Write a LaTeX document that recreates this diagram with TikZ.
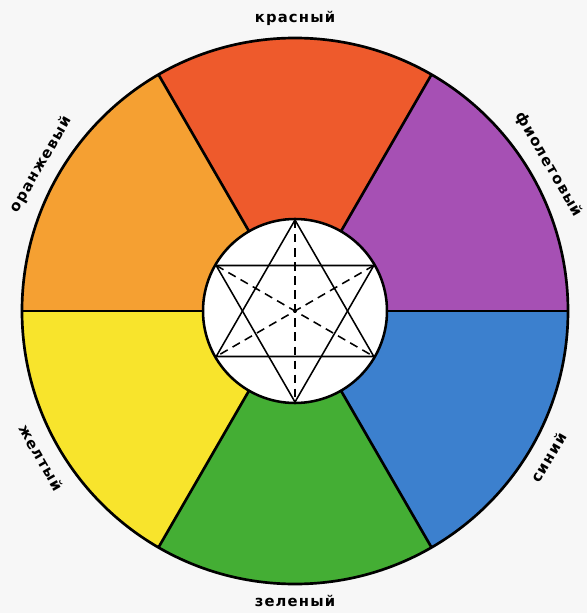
\documentclass[tikz,border=0pt]{standalone}
\usepackage{fontspec}
\newfontfamily\wheelfont[LetterSpace=8]{DejaVu Sans Bold}
\definecolor{wheelred}{HTML}{EE5A2C}
\definecolor{wheelviolet}{HTML}{A650B4}
\definecolor{wheelblue}{HTML}{3C80CE}
\definecolor{wheelgreen}{HTML}{44AE34}
\definecolor{wheelyellow}{HTML}{F8E42C}
\definecolor{wheelorange}{HTML}{F5A032}
\begin{document}
\begin{tikzpicture}[x=0.025cm, y=0.025cm,
        colname/.style={font=\wheelfont\fontsize{10.5}{12}\selectfont}]
        \useasboundingbox (-295,-302) rectangle (292,311);
        \fill[gray!6] (-295,-302) rectangle (292,311);

        % Colour sectors
        \foreach \a/\col in {0/wheelviolet, 60/wheelred, 120/wheelorange,
                180/wheelyellow, 240/wheelgreen, 300/wheelblue}
            \fill[\col] (0,0) -- (\a:273) arc[start angle=\a, delta angle=60, radius=273] -- cycle;
        \foreach \a in {0,60,...,300}
            \draw[line width=1.9pt] (0,0) -- (\a:273);
        \draw[line width=1.9pt] (0,0) circle (273);

        % Centre disc with star
        \fill[white] (0,0) circle (92);
        \draw[line width=1.8pt] (0,0) circle (92);
        \draw[line width=1.1pt] (90:91) -- (210:91) -- (330:91) -- cycle;
        \draw[line width=1.1pt] (270:91) -- (30:91) -- (150:91) -- cycle;
        \foreach \a in {30,90,150}
            \draw[line width=1.1pt, dash pattern=on 6pt off 4pt] (\a:91) -- (\a+180:91);

        % Names of the colours
        \node[colname] (red) at (90:293) {красный};
        \node[colname, rotate=-60] (violet) at (30:293) {фиолетовый};
        \node[colname, rotate=60] (blue) at (-30:293) {синий};
        \node[colname] (green) at (270:290) {зеленый};
        \node[colname, rotate=-60] (yellow) at (210:293) {желтый};
        \node[colname, rotate=60] (orange) at (150:293) {оранжевый};
    \end{tikzpicture}
\end{document}
